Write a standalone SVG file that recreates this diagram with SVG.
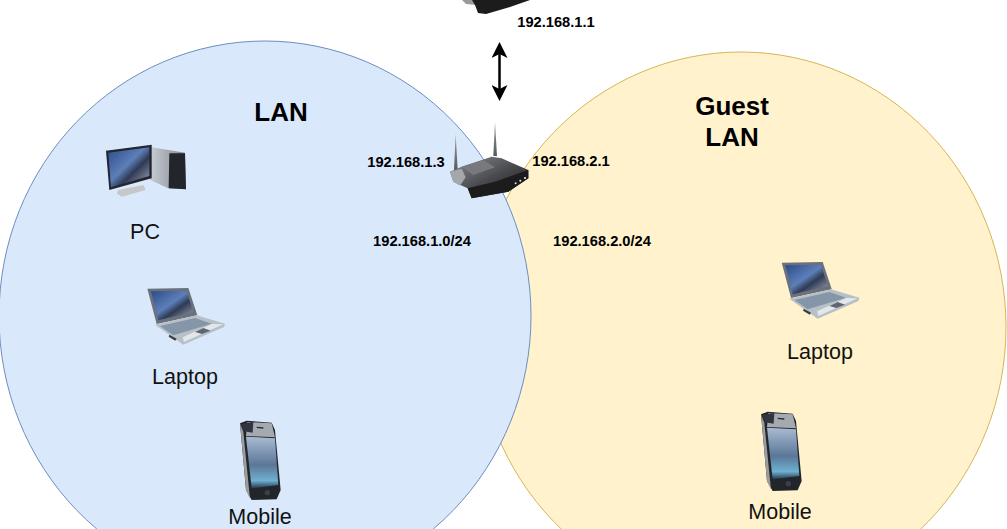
<svg xmlns="http://www.w3.org/2000/svg" width="1007" height="529" viewBox="0 0 1007 529">
<style>
text{font-family:"Liberation Sans",Arial,sans-serif;fill:#000;text-anchor:middle}
.ip{font-size:14.670px;font-weight:bold}
.lbl{font-size:21.500px;fill:#111}
.ttl{font-size:26px;font-weight:bold}
.icon{filter:url(#soft)}
</style>
<defs>
<filter id="soft" x="-5%" y="-5%" width="110%" height="110%"><feGaussianBlur stdDeviation="0.45"/></filter>
<linearGradient id="scr" x1="0" y1="0" x2="1" y2="1"><stop offset="0" stop-color="#2c4a8a"/><stop offset=".45" stop-color="#5d7fb8"/><stop offset=".62" stop-color="#2f3a55"/><stop offset="1" stop-color="#a8aeb8"/></linearGradient>
<linearGradient id="ph" x1="0" y1="0" x2="0" y2="1"><stop offset="0" stop-color="#a9bbd2"/><stop offset=".55" stop-color="#5b7797"/><stop offset=".85" stop-color="#6fb0d0"/><stop offset="1" stop-color="#24384c"/></linearGradient>
<linearGradient id="tw" x1="0" y1="0" x2="1" y2="0"><stop offset="0" stop-color="#c8ccd3"/><stop offset="1" stop-color="#808590"/></linearGradient>
<linearGradient id="rt" x1="0" y1="0" x2="1" y2="1"><stop offset="0" stop-color="#8d8f93"/><stop offset=".55" stop-color="#45464a"/><stop offset="1" stop-color="#1a1a1c"/></linearGradient>
<linearGradient id="ant" x1="0" y1="0" x2="0" y2="1"><stop offset="0" stop-color="#9a9ea2"/><stop offset="1" stop-color="#55595c"/></linearGradient>
<marker id="ah" viewBox="0 0 16 16" refX="4" refY="8" markerWidth="16" markerHeight="16" markerUnits="userSpaceOnUse" orient="auto-start-reverse"><path d="M0 0L16 8L0 16L4 8Z" fill="#000"/></marker>
<g id="laptop">
<path d="M22 20L145 18L172 100L50 126Z" fill="#6a717c"/>
<path d="M33 28L140 27L160 90L55 115Z" fill="url(#scr)"/>
<path d="M45 128L170 100L255 125L252 135L130 188L85 157Z" fill="#b7c0c7"/>
<path d="M60 132L165 108L215 125L100 160Z" fill="#8596a8"/>
<path d="M128 166L215 126L250 127L132 180Z" fill="#e3e7ea"/>
<path d="M165 150L190 138L212 146L186 156Z" fill="#5f6670"/>
<path d="M88 158L110 170L106 176L86 164Z" fill="#3a3d42"/>
</g>
<g id="phone">
<path d="M90 40L110 32L185 38L195 60L212 240L200 268L125 270L108 240Z" fill="#23262c"/>
<path d="M90 40L100 65L120 266L108 240Z" fill="#9a9c9e"/>
<path d="M112 36L185 40L195 82L108 78Z" fill="#a5a9b0"/>
<path d="M94 42L130 35L128 68L102 64Z" fill="#30353f"/>
<path d="M108 80L195 85L205 225L125 235Z" fill="url(#ph)"/>
<path d="M140 52L160 54" stroke="#2a2d33" stroke-width="4"/>
<circle cx="172" cy="248" r="8" fill="#3c3f45"/>
</g>
</defs>
<g id="guest-lan"><ellipse cx="741" cy="327" rx="265" ry="275" fill="#fff2cc" stroke="#d6b656"/></g>
<g id="lan"><ellipse cx="265" cy="316" rx="266" ry="275" fill="#dae8fc" stroke="#6c8ebf"/></g>
<g id="connectors"><line x1="499.500" y1="54" x2="499.500" y2="89" stroke="#000" stroke-width="2.500" marker-start="url(#ah)" marker-end="url(#ah)"/></g>
<g id="gateway"><g class="icon"><path d="M462 0H473L476 5L466 4Z" fill="#9b9b9b"/><path d="M472 0H530L510 7L486 14L478 13L475 5Z" fill="#1a1a1d"/></g><text class="ip" x="556" y="27">192.168.1.1</text></g>
<g id="router-node"><g class="icon" transform="translate(445 120) scale(.3333)">
<path d="M27 150L32 42L38 150Z" fill="url(#ant)"/>
<path d="M145 108L150 5L156 108Z" fill="url(#ant)"/>
<path d="M15 155L50 140L140 110L170 115L250 150V175L190 215L80 235L68 205L25 185Z" fill="url(#rt)"/>
<path d="M15 155L50 146L62 172L45 197L25 185Z" fill="#a4a7ab"/>
<path d="M50 140L115 120L150 142L85 165Z" fill="#77797d"/>
<path d="M68 205L150 185L250 150V175L190 215L80 235Z" fill="#1b1b1e"/>
<circle cx="212" cy="190" r="3" fill="#dde"/><circle cx="226" cy="182" r="3" fill="#dfd"/><circle cx="240" cy="174" r="3" fill="#ffd"/>
</g><text class="ip" x="406" y="167">192.168.1.3</text><text class="ip" x="571" y="166">192.168.2.1</text><text class="ip" x="422" y="246">192.168.1.0/24</text><text class="ip" x="602" y="246">192.168.2.0/24</text></g>
<g id="lan-title"><text class="ttl" x="281" y="121">LAN</text></g>
<g id="guest-title"><text class="ttl" x="732" y="115">Guest</text><text class="ttl" x="732" y="146">LAN</text></g>
<g id="pc"><g class="icon" transform="translate(100 140) scale(.3333)">
<path d="M155 22L255 38L258 148L205 145L150 120Z" fill="url(#tw)"/>
<path d="M208 40L255 40L258 148L206 145Z" fill="#24262c"/>
<path d="M55 150L130 135L137 150L65 170L50 160Z" fill="#c5c8ca"/>
<path d="M18 32L155 14V115L28 150Z" fill="#22262e"/>
<path d="M25 38L148 22V108L33 142Z" fill="url(#scr)"/>
</g><text class="lbl" x="145" y="239">PC</text></g>
<g id="lan-laptop"><use class="icon" href="#laptop" transform="translate(140 282) scale(.3333)"/><text class="lbl" x="185" y="384">Laptop</text></g>
<g id="lan-mobile"><use class="icon" href="#phone" transform="translate(210 410) scale(.3333)"/><text class="lbl" x="260" y="524.400">Mobile</text></g>
<g id="guest-laptop"><use class="icon" href="#laptop" transform="translate(774.400 256) scale(.3333)"/><text class="lbl" x="820" y="359">Laptop</text></g>
<g id="guest-mobile"><use class="icon" href="#phone" transform="translate(731 401) scale(.3333)"/><text class="lbl" x="780" y="519">Mobile</text></g>
</svg>
